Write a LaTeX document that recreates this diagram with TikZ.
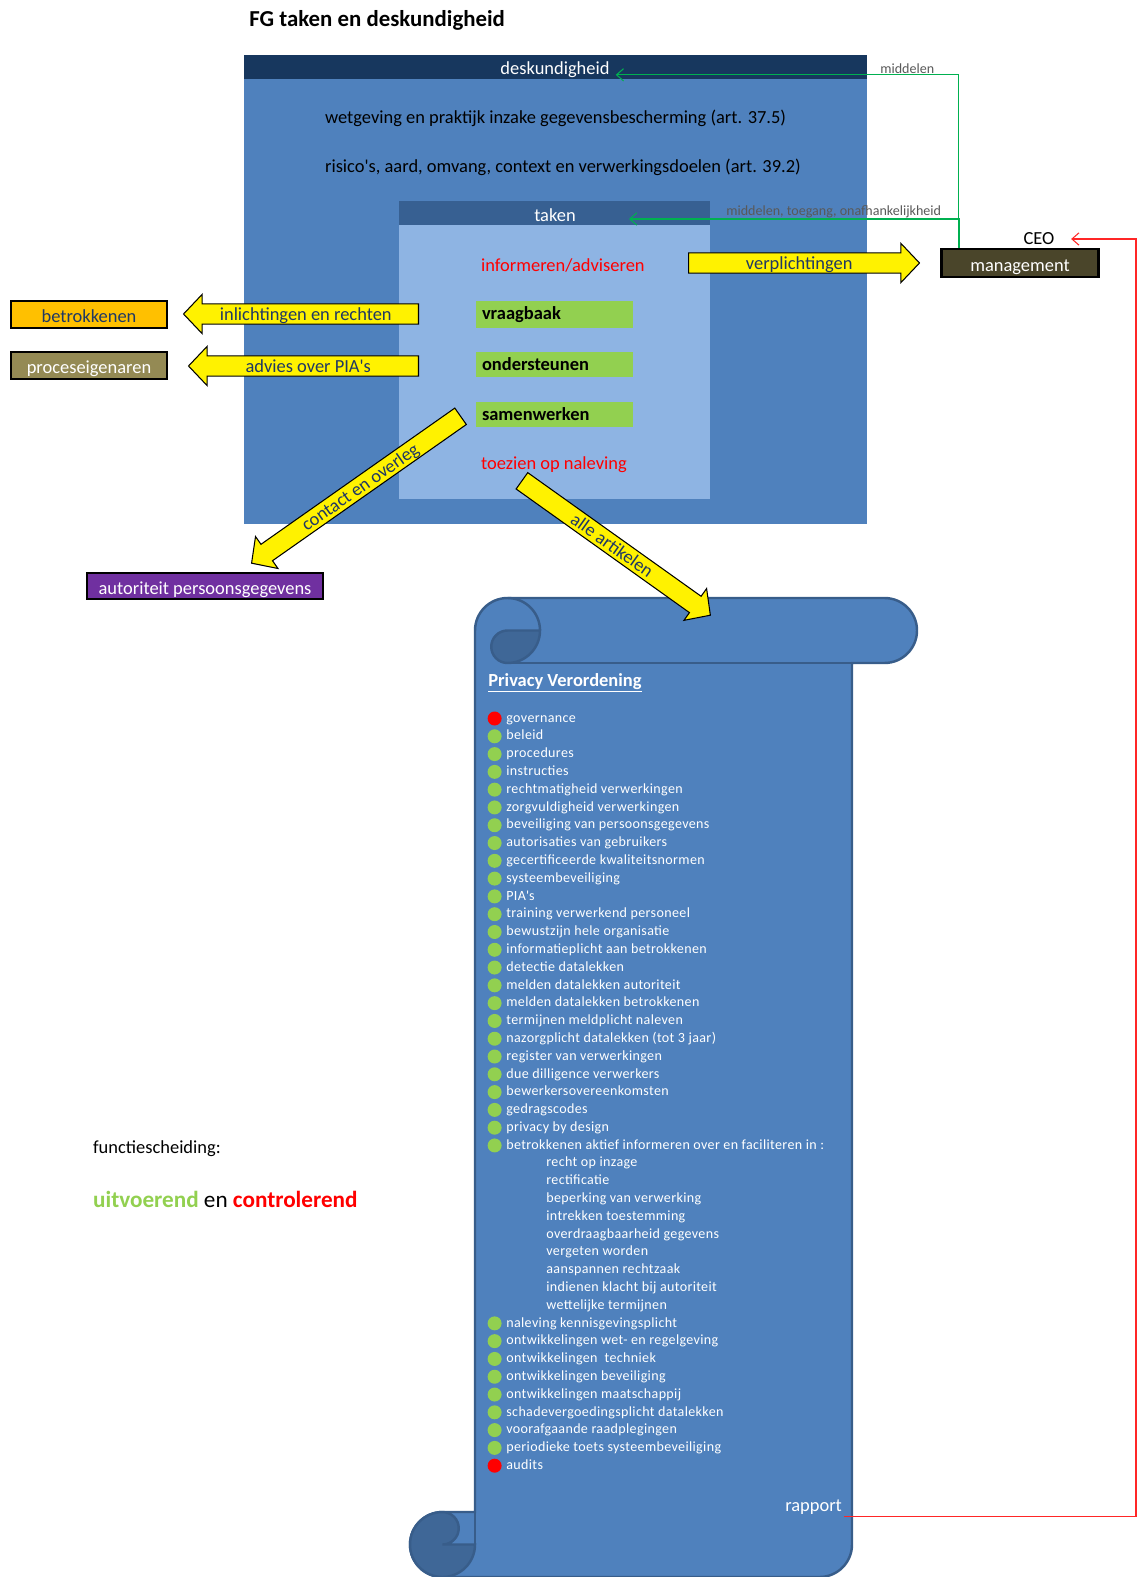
\documentclass[tikz,border=0pt]{standalone}
\usepackage{fontspec}
\setmainfont{Carlito}
\newfontfamily\listfamily{Carlito}[LetterSpace=2.5]
\newfontfamily\quotefamily{Carlito}
\usetikzlibrary{positioning}
\usetikzlibrary{shapes.arrows}
\usetikzlibrary{arrows.meta}
\definecolor{deskblue}{HTML}{4F81BD}
\definecolor{deskhead}{HTML}{17375E}
\definecolor{takenblue}{HTML}{8EB4E3}
\definecolor{takenhead}{HTML}{376092}
\definecolor{taskgreen}{HTML}{92D050}
\definecolor{navytext}{HTML}{1F3864}
\definecolor{scrollline}{HTML}{385D8A}
\definecolor{scrolldark}{HTML}{3F6797}
\definecolor{lblgray}{HTML}{595959}
\definecolor{mgmtfill}{HTML}{4A452A}
\definecolor{pofill}{HTML}{948A54}
\definecolor{apfill}{HTML}{7030A0}
\definecolor{betrfill}{HTML}{FFC000}
\definecolor{connectgreen}{HTML}{00B050}
\newcommand{\bodyfont}{\fontsize{10.5}{12.6}\selectfont}
\newcommand{\listfont}{\listfamily\fontsize{8}{9.6}\selectfont}
\newcommand{\sq}{{\quotefamily'}}
\tikzset{>={Straight Barb[length=4pt,width=7pt]}}
\tikzset{txt/.style={anchor=west, inner sep=1pt, font=\bodyfont}}
\tikzset{lbl/.style={inner sep=0.5pt, text=lblgray, font=\fontsize{8}{9.6}\selectfont}}
\tikzset{obox/.style={draw=black, line width=1.5pt, minimum width=3.12cm, minimum height=0.54cm, inner sep=1pt, text height=10pt, text depth=0.5pt, font=\bodyfont}}
\tikzset{yarrow/.style={single arrow, draw=black, line width=0.6pt, fill=yellow, text=navytext, font=\bodyfont, anchor=tail, inner xsep=2pt, inner ysep=1pt, text height=0.28cm, text depth=0.03cm, single arrow head extend=0.19cm, single arrow tip angle=93}}
\tikzset{task/.style={fill=taskgreen, minimum width=3.1cm, minimum height=0.5cm, text width=2.9cm, align=left, font=\bodyfont\bfseries}}
\tikzset{pvitem/.style={anchor=west, inner xsep=0pt, inner ysep=1pt, text=white, font=\listfont, text height=6pt, text depth=1.8pt}}
\tikzset{pvdot/.style={circle, inner sep=0pt, minimum size=0.28cm}}
\tikzset{uitv/.style={label={[pvdot, fill=taskgreen, label distance=2.3pt]left:}}}
\tikzset{contr/.style={label={[pvdot, fill=red, label distance=2.3pt]left:}}}
\tikzset{subitem/.style={xshift=0.8cm}}
\tikzset{gline/.style={draw=connectgreen, line width=0.6pt, ->}}
\tikzset{rline/.style={draw=red!85, line width=0.6pt, ->}}

\begin{document}
\begin{tikzpicture}[x=0.02cm, y=-0.02cm]
\useasboundingbox (0,0) rectangle (1144,1577);

% panels
\fill[deskblue] (244,55) rectangle (867,524);
\fill[deskhead] (244,55) rectangle (867,79);
\fill[takenblue] (399,201) rectangle (710,499);
\fill[takenhead] (399,201) rectangle (710,225);

\node[font=\fontsize{13}{15}\selectfont\bfseries, anchor=west, inner sep=0pt] (title) at (249,20) {FG taken en deskundigheid};

\node[white, font=\bodyfont] (desk) at (555,70) {deskundigheid};
\node[txt] (wet) at (323,118) {wetgeving en praktijk inzake gegevensbescherming (art. 37.5)};
\node[txt] (risico) at (323,167) {risico\sq s, aard, omvang, context en verwerkingsdoelen (art. 39.2)};

\node[white, font=\bodyfont] (taken) at (555,215) {taken};
\coordinate (takenin) at (629,219);
\node[txt, text=red] (inform) at (479,265) {informeren/adviseren};
\begin{scope}[on grid]
\node[task] (vraag) at (554.5,314.5) {vraagbaak};
\node[task] (onder) [below=1cm of vraag] {ondersteunen};
\node[task] (samen) [below=1cm of onder] {samenwerken};
\end{scope}
\node[txt, text=red] (toezien) at (479,465) {toezien op naleving};

% scroll
\filldraw[fill=deskblue, draw=scrollline, line width=1.4pt]
  (475,630.5) arc[start angle=180, end angle=270, radius=32.5]
  -- (884.5,598) arc[start angle=270, end angle=450, radius=32.5]
  -- (852,663) -- (852,1544.5) arc[start angle=0, end angle=90, radius=32.5]
  -- (442.5,1577) arc[start angle=90, end angle=270, radius=32.5]
  -- (475,1512) -- cycle;
\filldraw[fill=scrolldark, draw=scrollline, line width=1.4pt]
  (540,630.5) arc[start angle=0, end angle=90, radius=32.5]
  arc[start angle=90, end angle=270, radius=16.25] -- cycle;
\filldraw[fill=scrolldark, draw=scrollline, line width=1.4pt]
  (475,1544.5) arc[start angle=0, end angle=270, radius=32.5]
  arc[start angle=270, end angle=450, radius=16.25] -- cycle;
\draw[scrollline, line width=1.4pt] (507.5,598) arc[start angle=270, end angle=360, radius=32.5];
\draw[scrollline, line width=1.4pt] (852,663) -- (507.5,663);
\draw[scrollline, line width=1.4pt] (475,1544.5) -- (475,1512);

\node[anchor=west, inner sep=0pt, text=white, font=\bodyfont\bfseries] (pv) at (488,683) {\underline{Privacy Verordening}};
\foreach \c/\t [count=\i from 0] in {contr/governance, uitv/beleid, uitv/procedures, uitv/instructies,
  uitv/rechtmatigheid verwerkingen, uitv/zorgvuldigheid verwerkingen, uitv/beveiliging van persoonsgegevens,
  uitv/autorisaties van gebruikers, uitv/gecertificeerde kwaliteitsnormen, uitv/systeembeveiliging,
  uitv/PIA\sq s, uitv/training verwerkend personeel, uitv/bewustzijn hele organisatie,
  uitv/informatieplicht aan betrokkenen, uitv/detectie datalekken, uitv/melden datalekken autoriteit,
  uitv/melden datalekken betrokkenen, uitv/termijnen meldplicht naleven,
  uitv/nazorgplicht datalekken (tot 3 jaar), uitv/register van verwerkingen,
  uitv/due dilligence verwerkers, uitv/bewerkersovereenkomsten, uitv/gedragscodes,
  uitv/privacy by design, uitv/betrokkenen aktief informeren over en faciliteren in :,
  subitem/recht op inzage, subitem/rectificatie, subitem/beperking van verwerking,
  subitem/intrekken toestemming, subitem/overdraagbaarheid gegevens, subitem/vergeten worden,
  subitem/aanspannen rechtzaak, subitem/indienen klacht bij autoriteit, subitem/wettelijke termijnen,
  uitv/naleving kennisgevingsplicht, uitv/ontwikkelingen wet- en regelgeving,
  uitv/ontwikkelingen \ techniek, uitv/ontwikkelingen beveiliging, uitv/ontwikkelingen maatschappij,
  uitv/schadevergoedingsplicht datalekken, uitv/voorafgaande raadplegingen,
  uitv/periodieke toets systeembeveiliging, contr/audits}
  \node[pvitem, \c] (pv\i) at (506,{718.5+17.79*\i}) {\t};
\node[anchor=east, inner sep=1pt, text=white, font=\bodyfont] (rapport) at (844,1507) {rapport};

% arrows
\node[yarrow, minimum height=4.62cm] (verpl) at (688,263) {verplichtingen};
\node[yarrow, shape border rotate=180, minimum height=4.7cm] (inlicht) at (419,314) {inlichtingen en rechten};
\node[yarrow, shape border rotate=180, minimum height=4.6cm] (advies) at (419,366) {advies over PIA\sq s};
\node[yarrow, shape border rotate=180, rotate=35.1, minimum height=5.11cm] (contact) at (461,416) {contact en overleg};
\node[yarrow, rotate=-35.5, minimum height=4.63cm] (alle) at (521.5,480.5) {alle artikelen};

% boxes
\begin{scope}[on grid]
\node[obox, fill=betrfill, text=navytext] (betr) at (89,314.5) {betrokkenen};
\node[obox, fill=pofill, text=white] (proc) [below=1.02cm of betr] {proceseigenaren};
\end{scope}
\node[obox, fill=apfill, text=white, minimum width=4.72cm, minimum height=0.52cm] (ap) at (205,586) {autoriteit persoonsgegevens};
\node[obox, fill=mgmtfill, text=white, minimum width=3.14cm, minimum height=0.56cm] (mgmt) at (1020,263) {management};
\node[font=\bodyfont] (ceo) at (1039,239) {CEO};

\draw[gline] ([xshift=0.37cm]mgmt.north west) |- node[lbl, pos=0.575, above] {middelen} (desk.base east);
\draw[gline] ([xshift=0.38cm]mgmt.north west) |- node[lbl, pos=0.69, above] {middelen, toegang, onafhankelijkheid} (takenin);
\draw[rline, shorten >=6pt] (rapport.south east) -- ++(292,0) |- (ceo.east);

\node[txt] (functie) at (91,1149) {functiescheiding:};
\node[txt, font=\fontsize{13.2}{15}\selectfont] (scheiding) at (91,1199) {\textbf{\textcolor{taskgreen}{uitvoerend}} en \textbf{\textcolor{red}{controlerend}}};
\end{tikzpicture}
\end{document}
